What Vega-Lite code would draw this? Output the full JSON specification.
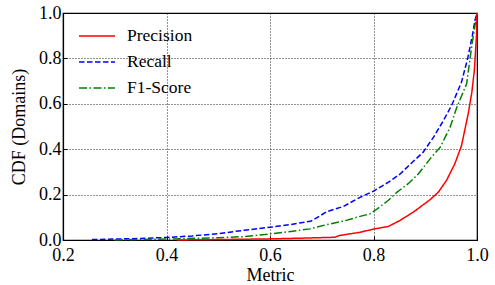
{
  "$schema": "https://vega.github.io/schema/vega-lite/v6.json",
  "width": 414,
  "height": 227,
  "autosize": {"type": "none"},
  "padding": {"left": 63, "top": 13, "right": 18, "bottom": 45},
  "background": "white",
  "config": {
    "view": {"stroke": "black", "strokeWidth": 1.2},
    "axis": {
      "labelFont": "Liberation Serif",
      "labelFontSize": 18,
      "labelColor": "black",
      "titleFont": "Liberation Serif",
      "titleFontSize": 18,
      "titleFontWeight": "normal",
      "titleColor": "black",
      "domainColor": "black",
      "domainWidth": 1.2,
      "tickColor": "black",
      "tickSize": -4,
      "tickWidth": 1,
      "gridColor": "black",
      "gridDash": [1, 2],
      "gridWidth": 1,
      "gridOpacity": 0.85,
      "labelFlush": false,
      "labelOverlap": false
    },
    "axisX": {"labelPadding": 10, "titlePadding": 2},
    "axisY": {"labelPadding": 6, "titlePadding": 10},
    "legend": {
      "orient": "none",
      "legendX": 21,
      "legendY": 10,
      "padding": 0,
      "symbolType": "M-1.5,0H1.5",
      "symbolSize": 576,
      "symbolStrokeWidth": 1.5,
      "symbolFillColor": "transparent",
      "labelFont": "Liberation Serif",
      "labelFontSize": 17.5,
      "labelColor": "black",
      "labelOffset": 17,
      "rowPadding": 4
    }
  },
  "data": {
    "values": [
      {"series": "Recall", "metric": 0.256, "cdf": 0.002},
      {"series": "Recall", "metric": 0.3, "cdf": 0.004},
      {"series": "Recall", "metric": 0.35, "cdf": 0.007},
      {"series": "Recall", "metric": 0.4, "cdf": 0.011},
      {"series": "Recall", "metric": 0.45, "cdf": 0.018},
      {"series": "Recall", "metric": 0.5, "cdf": 0.028},
      {"series": "Recall", "metric": 0.55, "cdf": 0.043},
      {"series": "Recall", "metric": 0.6, "cdf": 0.056},
      {"series": "Recall", "metric": 0.64, "cdf": 0.068},
      {"series": "Recall", "metric": 0.68, "cdf": 0.084},
      {"series": "Recall", "metric": 0.71, "cdf": 0.125},
      {"series": "Recall", "metric": 0.742, "cdf": 0.148},
      {"series": "Recall", "metric": 0.774, "cdf": 0.188},
      {"series": "Recall", "metric": 0.8, "cdf": 0.215},
      {"series": "Recall", "metric": 0.829, "cdf": 0.255},
      {"series": "Recall", "metric": 0.851, "cdf": 0.29},
      {"series": "Recall", "metric": 0.874, "cdf": 0.34},
      {"series": "Recall", "metric": 0.896, "cdf": 0.387},
      {"series": "Recall", "metric": 0.916, "cdf": 0.453},
      {"series": "Recall", "metric": 0.935, "cdf": 0.526},
      {"series": "Recall", "metric": 0.951, "cdf": 0.593},
      {"series": "Recall", "metric": 0.97, "cdf": 0.695},
      {"series": "Recall", "metric": 0.982, "cdf": 0.8},
      {"series": "Recall", "metric": 0.991, "cdf": 0.9},
      {"series": "Recall", "metric": 0.996, "cdf": 0.967},
      {"series": "Recall", "metric": 1.0, "cdf": 1.0},
      {"series": "F1-Score", "metric": 0.3, "cdf": 0.0},
      {"series": "F1-Score", "metric": 0.4, "cdf": 0.004},
      {"series": "F1-Score", "metric": 0.5, "cdf": 0.01},
      {"series": "F1-Score", "metric": 0.55, "cdf": 0.015},
      {"series": "F1-Score", "metric": 0.59, "cdf": 0.024},
      {"series": "F1-Score", "metric": 0.644, "cdf": 0.039},
      {"series": "F1-Score", "metric": 0.677, "cdf": 0.049},
      {"series": "F1-Score", "metric": 0.71, "cdf": 0.068},
      {"series": "F1-Score", "metric": 0.742, "cdf": 0.083},
      {"series": "F1-Score", "metric": 0.774, "cdf": 0.104},
      {"series": "F1-Score", "metric": 0.793, "cdf": 0.115},
      {"series": "F1-Score", "metric": 0.803, "cdf": 0.13},
      {"series": "F1-Score", "metric": 0.829, "cdf": 0.175},
      {"series": "F1-Score", "metric": 0.845, "cdf": 0.21},
      {"series": "F1-Score", "metric": 0.867, "cdf": 0.248},
      {"series": "F1-Score", "metric": 0.887, "cdf": 0.292},
      {"series": "F1-Score", "metric": 0.912, "cdf": 0.365},
      {"series": "F1-Score", "metric": 0.929, "cdf": 0.409},
      {"series": "F1-Score", "metric": 0.948, "cdf": 0.497},
      {"series": "F1-Score", "metric": 0.961, "cdf": 0.585},
      {"series": "F1-Score", "metric": 0.98, "cdf": 0.688},
      {"series": "F1-Score", "metric": 0.99, "cdf": 0.857},
      {"series": "F1-Score", "metric": 1.0, "cdf": 1.0},
      {"series": "Precision", "metric": 0.42, "cdf": 0.0},
      {"series": "Precision", "metric": 0.5, "cdf": 0.002},
      {"series": "Precision", "metric": 0.6, "cdf": 0.005},
      {"series": "Precision", "metric": 0.66, "cdf": 0.008},
      {"series": "Precision", "metric": 0.725, "cdf": 0.012},
      {"series": "Precision", "metric": 0.735, "cdf": 0.02},
      {"series": "Precision", "metric": 0.774, "cdf": 0.034},
      {"series": "Precision", "metric": 0.8, "cdf": 0.048},
      {"series": "Precision", "metric": 0.829, "cdf": 0.06},
      {"series": "Precision", "metric": 0.851, "cdf": 0.086},
      {"series": "Precision", "metric": 0.877, "cdf": 0.123},
      {"series": "Precision", "metric": 0.909, "cdf": 0.177},
      {"series": "Precision", "metric": 0.925, "cdf": 0.21},
      {"series": "Precision", "metric": 0.941, "cdf": 0.262},
      {"series": "Precision", "metric": 0.957, "cdf": 0.335},
      {"series": "Precision", "metric": 0.97, "cdf": 0.415},
      {"series": "Precision", "metric": 0.983, "cdf": 0.556},
      {"series": "Precision", "metric": 0.99, "cdf": 0.65},
      {"series": "Precision", "metric": 0.995, "cdf": 0.75},
      {"series": "Precision", "metric": 0.999, "cdf": 0.9},
      {"series": "Precision", "metric": 1.0, "cdf": 1.0}
    ]
  },
  "mark": {"type": "line", "strokeWidth": 1.5},
  "encoding": {
    "x": {
      "field": "metric",
      "type": "quantitative",
      "scale": {"domain": [0.2, 1.0], "nice": false, "zero": false},
      "axis": {"title": "Metric", "values": [0.2, 0.4, 0.6, 0.8, 1.0], "format": ".1f"}
    },
    "y": {
      "field": "cdf",
      "type": "quantitative",
      "scale": {"domain": [0, 1], "nice": false},
      "axis": {"title": "CDF (Domains)", "values": [0, 0.2, 0.4, 0.6, 0.8, 1.0], "format": ".1f"}
    },
    "color": {
      "field": "series",
      "type": "nominal",
      "scale": {"domain": ["Precision", "Recall", "F1-Score"], "range": ["#ff0000", "#0000ff", "#008000"]},
      "legend": {"title": null}
    },
    "strokeDash": {
      "field": "series",
      "type": "nominal",
      "scale": {"domain": ["Precision", "Recall", "F1-Score"], "range": [[1, 0], [5.5, 2.5], [8, 2.5, 1.5, 2.5]]},
      "legend": {"title": null}
    }
  }
}
